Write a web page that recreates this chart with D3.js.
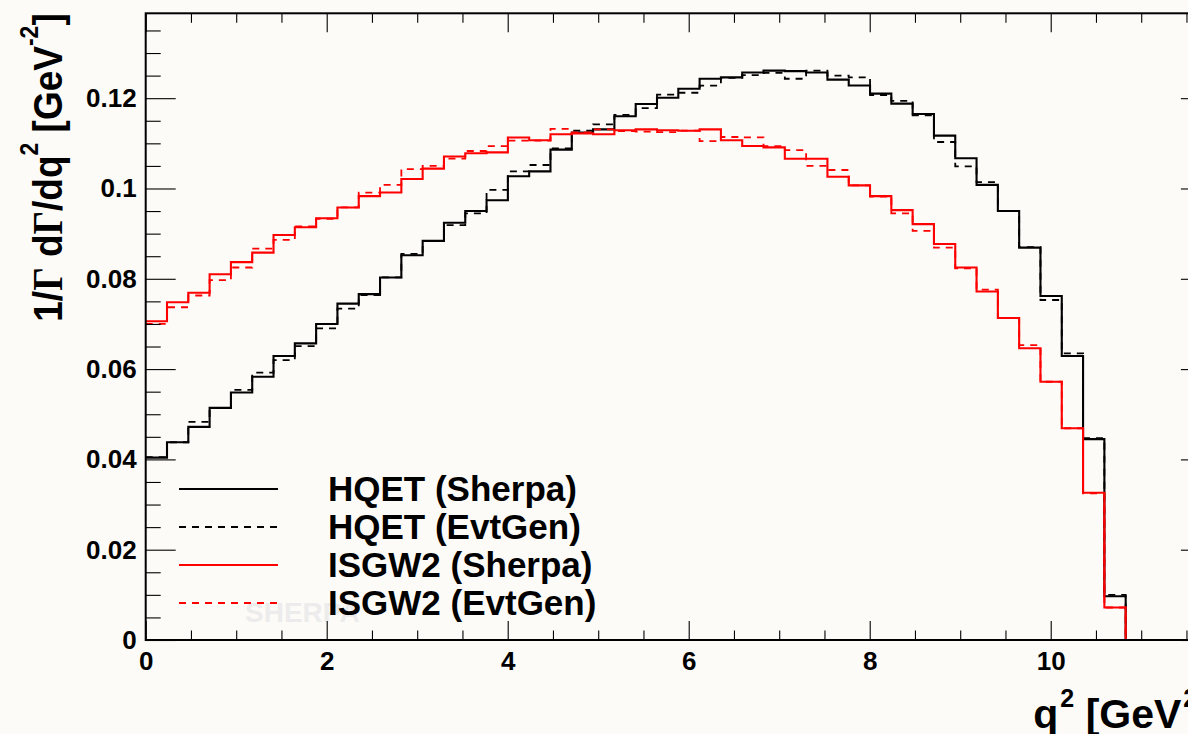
<!DOCTYPE html>
<html>
<head>
<meta charset="utf-8">
<script src="https://cdn.jsdelivr.net/npm/d3@7"></script>
<style>
  html, body { margin: 0; padding: 0; background: #fdfbf8; }
  svg { display: block; }
  text { font-family: "Liberation Sans", Arial, Helvetica, sans-serif; font-weight: bold; }
</style>
</head>
<body>
<svg id="chart" width="1188" height="734"></svg>
<script>
// ---------------- data ----------------
const qMin = 0;
const qMax = 11.77;
const nBins = 50;

const hqetSherpa = [0.0404,0.0438,0.0472,0.0514,0.0548,0.0583,0.0629,0.0657,0.0700,0.0745,
  0.0766,0.0803,0.0852,0.0884,0.0924,0.0950,0.0974,0.1027,0.1038,0.1086,
  0.1124,0.1131,0.1160,0.1187,0.1201,0.1221,0.1243,0.1246,0.1257,0.1261,
  0.1260,0.1257,0.1241,0.1228,0.1210,0.1188,0.1165,0.1117,0.1067,0.1008,
  0.0950,0.0869,0.0762,0.0629,0.0445,0.0097,0,0,0,0];

const hqetEvtGen = [0.0405,0.0438,0.0483,0.0514,0.0554,0.0592,0.0620,0.0651,0.0690,0.0734,
  0.0764,0.0803,0.0855,0.0884,0.0919,0.0945,0.0997,0.1038,0.1052,0.1089,
  0.1128,0.1142,0.1163,0.1178,0.1208,0.1212,0.1228,0.1245,0.1251,0.1256,
  0.1243,0.1261,0.1250,0.1246,0.1207,0.1194,0.1162,0.1103,0.1049,0.1014,
  0.0950,0.0870,0.0753,0.0635,0.0447,0.0100,0,0,0,0];

const isgw2Sherpa = [0.0706,0.0748,0.0769,0.0810,0.0837,0.0858,0.0897,0.0914,0.0934,0.0958,
  0.0983,0.0991,0.1021,0.1044,0.1071,0.1078,0.1080,0.1113,0.1107,0.1120,
  0.1122,0.1120,0.1129,0.1131,0.1129,0.1128,0.1131,0.1107,0.1094,0.1091,
  0.1066,0.1066,0.1026,0.1007,0.0983,0.0952,0.0921,0.0877,0.0825,0.0772,
  0.0713,0.0646,0.0572,0.0469,0.0326,0.0072,0,0,0,0];

const isgw2EvtGen = [0.0700,0.0737,0.0763,0.0797,0.0825,0.0867,0.0886,0.0916,0.0933,0.0958,
  0.0991,0.1008,0.1043,0.1050,0.1066,0.1083,0.1094,0.1106,0.1106,0.1132,
  0.1124,0.1131,0.1127,0.1126,0.1125,0.1128,0.1105,0.1114,0.1113,0.1094,
  0.1085,0.1050,0.1041,0.1007,0.0982,0.0945,0.0906,0.0869,0.0823,0.0776,
  0.0713,0.0653,0.0572,0.0469,0.0325,0.0072,0,0,0,0];

const seriesNames = ["HQET (Sherpa)", "HQET (EvtGen)", "ISGW2 (Sherpa)", "ISGW2 (EvtGen)"];
const seriesValues = [hqetSherpa, hqetEvtGen, isgw2Sherpa, isgw2EvtGen];
const seriesColors = ["#000000", "#000000", "#ff0000", "#ff0000"];
const seriesDashed = [false, true, false, true];

const xMajorTicks = [0, 2, 4, 6, 8, 10];
const xMinorTicks = [0.5,1,1.5,2.5,3,3.5,4.5,5,5.5,6.5,7,7.5,8.5,9,9.5,10.5,11,11.5];
const yMajorTicks = [0, 0.02, 0.04, 0.06, 0.08, 0.1, 0.12];
const yTickLabels = ["0", "0.02", "0.04", "0.06", "0.08", "0.1", "0.12"];
const yMinorTicks = [0.005,0.01,0.015,0.025,0.03,0.035,0.045,0.05,0.055,0.065,0.07,0.075,
  0.085,0.09,0.095,0.105,0.11,0.115,0.125,0.13,0.135];
const yMax = 0.1388;

// ---------------- layout ----------------
const W = 1188, H = 734;
const svg = d3.select("#chart");
svg.append("rect").attr("width", W).attr("height", H).attr("fill", "#fdfbf8");

const x = d3.scaleLinear().domain([qMin, qMax]).range([145.7, 1210.9]);
const y = d3.scaleLinear().domain([0, yMax]).range([640, 13.3]);
const binW = (qMax - qMin) / nBins;
const edges = d3.range(nBins + 1).map(i => qMin + i * binW);

// watermark
svg.append("text")
  .attr("x", 245).attr("y", 622)
  .attr("font-size", 28)
  .attr("fill", "#ececec")
  .text("SHERPA");

// clip
svg.append("clipPath").attr("id", "plotClip")
  .append("rect")
  .attr("x", x(qMin)).attr("y", y(yMax))
  .attr("width", x(qMax) - x(qMin)).attr("height", y(0) - y(yMax));

const line = d3.line()
  .x(d => x(d[0])).y(d => y(d[1]))
  .curve(d3.curveStepAfter);

const gHist = svg.append("g").attr("clip-path", "url(#plotClip)");
seriesValues.forEach((vals, k) => {
  const pts = vals.map((v, i) => [edges[i], v]);
  pts.push([edges[nBins], vals[nBins - 1]]);
  gHist.append("path")
    .datum(pts)
    .attr("d", line)
    .attr("fill", "none")
    .attr("stroke", seriesColors[k])
    .attr("stroke-width", seriesDashed[k] ? 1.8 : 2.1)
    .attr("stroke-dasharray", seriesDashed[k] ? "7,6" : null);
});

// ---------------- axes ----------------
function styleAxis(g) {
  g.select(".domain").remove();
  g.selectAll(".tick line").attr("stroke", "#000").attr("stroke-width", 1.1);
  g.selectAll("text").attr("font-size", 26).attr("fill", "#000")
    .style("font-family", "'Liberation Sans', Arial, sans-serif").style("font-weight", "bold");
}

// bottom
svg.append("g").attr("transform", `translate(0,${y(0)})`)
  .call(d3.axisBottom(x).tickValues(xMajorTicks).tickSize(-19).tickPadding(11.5)
    .tickFormat(d3.format("d")))
  .call(styleAxis);
svg.append("g").attr("transform", `translate(0,${y(0)})`)
  .call(d3.axisBottom(x).tickValues(xMinorTicks).tickSize(-9.5).tickFormat(""))
  .call(styleAxis);
// top
svg.append("g").attr("transform", `translate(0,${y(yMax)})`)
  .call(d3.axisTop(x).tickValues(xMajorTicks).tickSize(-19).tickFormat(""))
  .call(styleAxis);
svg.append("g").attr("transform", `translate(0,${y(yMax)})`)
  .call(d3.axisTop(x).tickValues(xMinorTicks).tickSize(-9.5).tickFormat(""))
  .call(styleAxis);
// left
svg.append("g").attr("transform", `translate(${x(qMin)},0)`)
  .call(d3.axisLeft(y).tickValues(yMajorTicks).tickSize(-30).tickPadding(9)
    .tickFormat((d, i) => yTickLabels[i]))
  .call(styleAxis);
svg.append("g").attr("transform", `translate(${x(qMin)},0)`)
  .call(d3.axisLeft(y).tickValues(yMinorTicks).tickSize(-15).tickFormat(""))
  .call(styleAxis);
// right
svg.append("g").attr("transform", `translate(${x(qMax)},0)`)
  .call(d3.axisRight(y).tickValues(yMajorTicks).tickSize(-30).tickFormat(""))
  .call(styleAxis);
svg.append("g").attr("transform", `translate(${x(qMax)},0)`)
  .call(d3.axisRight(y).tickValues(yMinorTicks).tickSize(-15).tickFormat(""))
  .call(styleAxis);

// frame
svg.append("rect")
  .attr("x", x(qMin)).attr("y", y(yMax))
  .attr("width", x(qMax) - x(qMin)).attr("height", y(0) - y(yMax))
  .attr("fill", "none").attr("stroke", "#000").attr("stroke-width", 2);

// ---------------- titles ----------------
const xt = svg.append("text")
  .attr("x", x(qMax)).attr("y", 728)
  .attr("text-anchor", "end")
  .attr("font-size", 41);
xt.append("tspan").text("q");
xt.append("tspan").attr("font-size", 25).attr("dy", -21).attr("dx", 2).text("2");
xt.append("tspan").attr("dy", 21).text(" [GeV");
xt.append("tspan").attr("font-size", 25).attr("dy", -21).attr("dx", 2).text("2");
xt.append("tspan").attr("dy", 21).text("]");

const serif = "'Liberation Serif', 'Times New Roman', serif";
const yt = svg.append("text")
  .attr("transform", `translate(62,${y(yMax)}) scale(1.12,1) rotate(-90)`)
  .attr("text-anchor", "end")
  .attr("font-size", 37);
yt.append("tspan").text("1/");
yt.append("tspan").style("font-family", serif).text("\u0393");
yt.append("tspan").text(" d");
yt.append("tspan").style("font-family", serif).text("\u0393");
yt.append("tspan").text("/dq");
yt.append("tspan").attr("font-size", 23).attr("dy", -21).text("2");
yt.append("tspan").attr("dy", 21).text(" [GeV");
yt.append("tspan").attr("font-size", 23).attr("dy", -21).text("-2");
yt.append("tspan").attr("dy", 21).text("]");

// ---------------- legend ----------------
const legendY = [489, 527, 565, 603];
const lg = svg.append("g");
seriesNames.forEach((name, k) => {
  lg.append("line")
    .attr("x1", 179).attr("x2", 278)
    .attr("y1", legendY[k]).attr("y2", legendY[k])
    .attr("stroke", seriesColors[k])
    .attr("stroke-width", seriesDashed[k] ? 1.8 : 2.1)
    .attr("stroke-dasharray", seriesDashed[k] ? "7,6" : null);
  lg.append("text")
    .attr("x", 328).attr("y", legendY[k] + 12)
    .attr("font-size", 35)
    .attr("fill", "#000")
    .text(name);
});
</script>
</body>
</html>
